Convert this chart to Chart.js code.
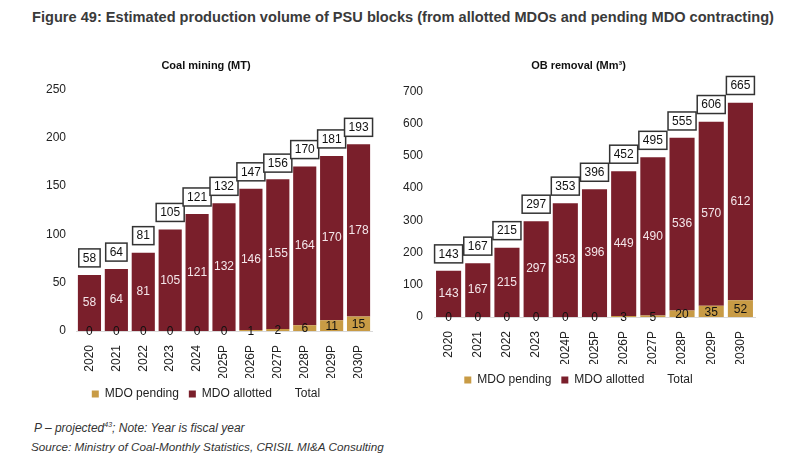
<!DOCTYPE html>
<html>
<head>
<meta charset="utf-8">
<script src="https://cdn.jsdelivr.net/npm/chart.js@4/dist/chart.umd.min.js"></script>
<style>
  body { margin: 0; background: #fff; font-family: "Liberation Sans", Arial, sans-serif; }
  #page { position: relative; width: 789px; height: 467px; overflow: hidden; }
  #fig-title { position: absolute; left: 32px; top: 9px; font-size: 14.6px; font-weight: bold; color: #3a3a3a; white-space: nowrap; }
  .box { position: absolute; }
  .note { position: absolute; font-size: 12px; font-style: italic; color: #333; white-space: nowrap; }
  .note sup { font-size: 7px; }
</style>
</head>
<body>
<div id="page">
  <div id="fig-title">Figure 49: Estimated production volume of PSU blocks (from allotted MDOs and pending MDO contracting)</div>
  <div class="box" style="left:20px; top:52px; width:372px; height:358px;"><canvas id="coalChart"></canvas></div>
  <div class="box" style="left:398px; top:52px; width:391px; height:344px;"><canvas id="obChart"></canvas></div>
  <div class="note" style="left:34px; top:421px;">P – projected<sup>43</sup>; Note: Year is fiscal year</div>
  <div class="note" style="left:31px; top:440px; font-size:11.7px;">Source: Ministry of Coal-Monthly Statistics, CRISIL MI&amp;A Consulting</div>
</div>
<script>
// data
const coalYears = ['2020', '2021', '2022', '2023', '2024', '2025P', '2026P', '2027P', '2028P', '2029P', '2030P'];
const coalPending = [0, 0, 0, 0, 0, 0, 1, 2, 6, 11, 15];
const coalAllotted = [58, 64, 81, 105, 121, 132, 146, 155, 164, 170, 178];
const coalTotal = [58, 64, 81, 105, 121, 132, 147, 156, 170, 181, 193];

const obYears = ['2020', '2021', '2022', '2023', '2024P', '2025P', '2026P', '2027P', '2028P', '2029P', '2030P'];
const obPending = [0, 0, 0, 0, 0, 0, 3, 5, 20, 35, 52];
const obAllotted = [143, 167, 215, 297, 353, 396, 449, 490, 536, 570, 612];
const obTotal = [143, 167, 215, 297, 353, 396, 452, 495, 555, 606, 665];

const pendingColor = '#c89b45';
const allottedColor = '#7a1f2b';
const fontFamily = '"Liberation Sans", Arial, sans-serif';

Chart.defaults.font.family = fontFamily;
Chart.defaults.color = '#222';

// value labels: pending at its segment, allotted in white, totals in boxes
const barLabels = {
    id: 'barLabels',
    afterDatasetsDraw(chart) {
        const ctx = chart.ctx;
        const pend = chart.getDatasetMeta(0).data;
        const allot = chart.getDatasetMeta(1).data;
        const tot = chart.getDatasetMeta(2).data;
        ctx.save();
        ctx.font = '12px ' + fontFamily;
        ctx.textAlign = 'center';
        ctx.textBaseline = 'middle';
        pend.forEach((el, i) => {
            ctx.fillStyle = '#111';
            ctx.fillText(chart.data.datasets[0].data[i], el.x, (el.y + el.base) / 2 + 1);
        });
        allot.forEach((el, i) => {
            ctx.fillStyle = '#f4e6ea';
            ctx.fillText(chart.data.datasets[1].data[i], el.x, (el.y + el.base) / 2);
        });
        tot.forEach((pt, i) => {
            const txt = String(chart.data.datasets[2].data[i]);
            const w = ctx.measureText(txt).width + 8;
            const h = 18;
            const bottom = pt.y - 8;
            ctx.fillStyle = '#fff';
            ctx.fillRect(pt.x - w / 2, bottom - h, w, h);
            ctx.strokeStyle = '#333';
            ctx.lineWidth = 1.5;
            ctx.strokeRect(pt.x - w / 2, bottom - h, w, h);
            ctx.fillStyle = '#111';
            ctx.fillText(txt, pt.x, bottom - h / 2 + 0.5);
        });
        ctx.restore();
    }
};

function makeChart(id, title, labels, pending, allotted, total, yMax, yStep, axisWidth, pad) {
    return new Chart(document.getElementById(id), {
        type: 'bar',
        data: {
            labels: labels,
            datasets: [
                { label: 'MDO pending', data: pending, backgroundColor: pendingColor, stack: 's', barPercentage: 0.86, categoryPercentage: 1 },
                { label: 'MDO allotted', data: allotted, backgroundColor: allottedColor, stack: 's', barPercentage: 0.86, categoryPercentage: 1 },
                { label: 'Total', type: 'line', data: total, stack: 'total', showLine: false, pointRadius: 0,
                  borderColor: 'rgba(0,0,0,0)', backgroundColor: 'rgba(0,0,0,0)', borderWidth: 0 }
            ]
        },
        options: {
            responsive: true,
            maintainAspectRatio: false,
            animation: false,
            layout: { padding: { left: pad.left, right: pad.right, top: 0, bottom: 0 } },
            plugins: {
                title: {
                    display: true,
                    text: title,
                    font: { size: 11, weight: 'bold' },
                    color: '#111',
                    padding: { top: 7, bottom: pad.titleGap }
                },
                legend: {
                    position: 'bottom',
                    labels: { boxWidth: 7, boxHeight: 7, padding: 10, font: { size: 12 }, color: '#222' }
                },
                tooltip: { enabled: false }
            },
            scales: {
                x: {
                    stacked: true,
                    grid: { display: false },
                    border: { color: '#d9d9d9' },
                    ticks: { maxRotation: 90, minRotation: 90, padding: 6, font: { size: 12 }, color: '#222' },
                    afterFit(scale) { scale.height = 47; }
                },
                y: {
                    stacked: true,
                    min: 0,
                    max: yMax,
                    grid: { display: false, drawTicks: false },
                    border: { display: false },
                    ticks: { stepSize: yStep, padding: pad.tick, font: { size: 12 }, color: '#222' },
                    afterFit(scale) { scale.width = axisWidth; }
                }
            }
        },
        plugins: [barLabels]
    });
}

makeChart('coalChart', 'Coal mining (MT)', coalYears, coalPending, coalAllotted, coalTotal, 250, 50, 36,
    { left: 20, right: 20, tick: 10, titleGap: 17 });
makeChart('obChart', 'OB removal (Mm\u00b3)', obYears, obPending, obAllotted, obTotal, 700, 100, 32,
    { left: 4, right: 34, tick: 11, titleGap: 19 });
</script>
</body>
</html>
